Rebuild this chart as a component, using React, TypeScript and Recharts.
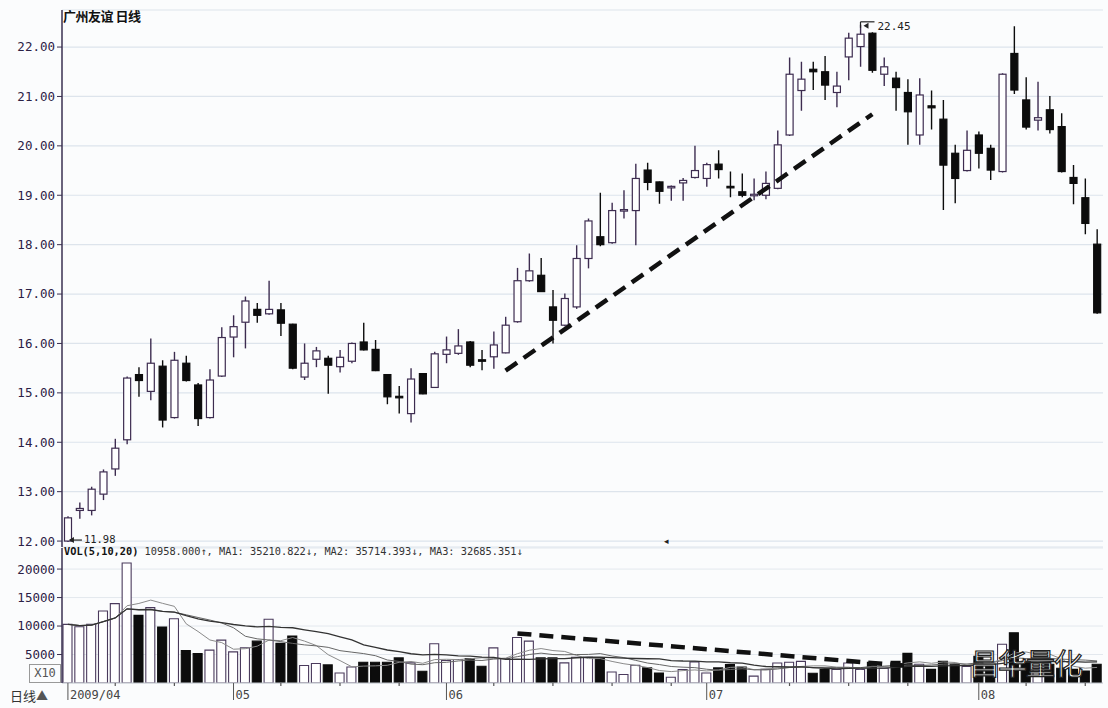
import React from 'react';
import { ComposedChart, Bar, Line, XAxis, YAxis, CartesianGrid, Cell, ReferenceDot } from 'recharts';

// 广州友谊 日线, 2009/04/13 - 2009/08/14
const opens = [
  12.0, 12.62, 12.62, 12.95, 13.46, 14.05, 15.37, 15.03, 15.54, 14.5,
  15.6, 15.16, 14.5, 15.34, 16.13, 16.43, 16.69, 16.6, 16.68, 16.39,
  15.32, 15.68, 15.7, 15.53, 15.64, 16.03, 15.88, 15.37, 14.93, 14.58,
  15.39, 15.11, 15.78, 15.8, 16.03, 15.67, 15.73, 15.81, 16.44, 17.27,
  17.38, 16.74, 16.37, 16.74, 17.72, 18.16, 18.04, 18.69, 18.69, 19.51,
  19.27, 19.16, 19.25, 19.36, 19.34, 19.63, 19.18, 19.07, 19.0, 19.0,
  19.14, 20.22, 21.12, 21.55, 21.5, 21.08, 21.8, 22.01, 22.28, 21.45,
  21.37, 21.08, 20.22, 20.81, 20.54, 19.85, 19.5, 20.22, 19.95, 19.48,
  21.87, 20.93, 20.52, 20.73, 20.39, 19.36, 18.95, 18.01,
];
const highs = [
  12.5, 12.78, 13.1, 13.45, 14.07, 15.33, 15.52, 16.1, 15.66, 15.83,
  15.75, 15.2, 15.48, 16.33, 16.57, 16.95, 16.82, 17.27, 16.82, 16.4,
  16.0, 15.93, 15.75, 15.87, 16.02, 16.42, 16.07, 15.38, 15.14, 15.5,
  15.4, 15.83, 16.14, 16.29, 16.05, 15.87, 16.24, 16.54, 17.53, 17.82,
  17.73, 17.08, 17.01, 17.99, 18.53, 19.05, 18.85, 19.1, 19.64, 19.66,
  19.28, 19.2, 19.35, 20.0, 19.66, 19.91, 19.48, 19.44, 19.34, 19.48,
  20.31, 21.79, 21.7, 21.7, 21.82, 21.5, 22.29, 22.45, 22.3, 21.79,
  21.5, 21.35, 21.37, 21.12, 20.93, 20.02, 20.31, 20.29, 20.02, 21.47,
  22.42, 21.39, 21.3, 21.01, 20.66, 19.61, 19.34, 18.31,
];
const lows = [
  11.98, 12.45, 12.52, 12.83, 13.32, 13.96, 14.92, 14.85, 14.3, 14.48,
  15.23, 14.33, 14.48, 15.32, 15.72, 15.9, 16.42, 16.58, 16.15, 15.48,
  15.26, 15.52, 14.98, 15.41, 15.6, 15.86, 15.44, 14.77, 14.58, 14.4,
  14.97, 15.1, 15.6, 15.77, 15.52, 15.46, 15.49, 15.8, 16.42, 17.25,
  17.04, 16.0, 16.35, 16.7, 17.52, 17.97, 18.02, 18.53, 17.99, 19.1,
  18.83, 18.89, 18.89, 19.34, 19.17, 19.34, 18.96, 18.96, 18.9, 18.92,
  19.12, 20.2, 20.71, 21.13, 20.93, 20.78, 21.33, 21.6, 21.48, 21.21,
  20.71, 20.02, 20.02, 20.33, 18.7, 18.84, 19.48, 19.54, 19.31, 19.46,
  21.05, 20.33, 20.31, 20.25, 19.46, 18.82, 18.21, 16.6,
];
const closes = [
  12.47, 12.66, 13.05, 13.4, 13.88, 15.3, 15.25, 15.6, 14.45, 15.66,
  15.25, 14.48, 15.26, 16.12, 16.34, 16.86, 16.57, 16.69, 16.41, 15.5,
  15.6, 15.85, 15.56, 15.72, 16.0, 15.87, 15.45, 14.92, 14.91, 15.28,
  14.98, 15.79, 15.87, 15.95, 15.56, 15.65, 15.97, 16.37, 17.27, 17.47,
  17.05, 16.47, 16.91, 17.72, 18.48, 18.0, 18.69, 18.71, 19.34, 19.26,
  19.08, 19.18, 19.3, 19.5, 19.62, 19.52, 19.17, 19.0, 19.02, 19.24,
  20.02, 21.45, 21.35, 21.5, 21.23, 21.21, 22.18, 22.26, 21.53, 21.6,
  21.18, 20.69, 21.03, 20.77, 19.61, 19.34, 19.91, 19.85, 19.51, 21.45,
  21.13, 20.38, 20.57, 20.33, 19.48, 19.24, 18.43, 16.62,
];
const volumes = [
  10300, 9880, 10300, 12650, 13940, 21060, 11880, 13230, 9820, 11290,
  5710, 5180, 5770, 7530, 5470, 6180, 7350, 11180, 6950, 8240,
  3070, 3420, 3180, 1760, 2820, 3650, 3650, 3650, 4410, 3530,
  2060, 6880, 3950, 4120, 4300, 2940, 6170, 4300, 8000, 7350,
  4410, 4410, 3530, 4530, 4530, 4410, 1940, 1480, 3120, 2650,
  1760, 1000, 2360, 3700, 1760, 2650, 3240, 2820, 1200, 2400,
  3500, 3650, 3800, 1700, 2400, 2400, 3500, 2400, 3650, 2600,
  3800, 5200, 3300, 2400, 3800, 3300, 2900, 4700, 3100, 6800,
  8800, 3800, 2600, 3300, 2600, 2400, 2100, 3300,
];

const priceTicks = [12, 13, 14, 15, 16, 17, 18, 19, 20, 21, 22];
const volTicks = [5000, 10000, 15000, 20000];
const monthStarts = [0, 14, 32, 54, 77];
const monthNames = ['2009/04', '05', '06', '07', '08'];
const weekEnds = [4, 9, 18, 23, 28, 36, 41, 46, 51, 61, 66, 71, 81, 86];

// hand-drawn trend lines (candle index, value)
const priceTrend = [{ i: 37, v: 15.45 }, { i: 68, v: 20.64 }];
const volTrend = [{ i: 38, v: 8700 }, { i: 71, v: 3000 }];

const movingAverage = (arr: number[], n: number) =>
  arr.map((_, i) => {
    const part = arr.slice(Math.max(0, i - n + 1), i + 1);
    return part.reduce((s, v) => s + v, 0) / part.length;
  });

const ma5 = movingAverage(volumes, 5);
const ma10 = movingAverage(volumes, 10);
const ma20 = movingAverage(volumes, 20);

const rows = closes.map((c, i) => ({
  i,
  open: opens[i],
  high: highs[i],
  low: lows[i],
  close: c,
  range: [lows[i], highs[i]],
  vol: volumes[i],
  ma5: ma5[i],
  ma10: ma10[i],
  ma20: ma20[i],
  trend: priceTrend.find((p) => p.i === i)?.v ?? null,
  vtrend: volTrend.find((p) => p.i === i)?.v ?? null,
}));

const UP = '#3d2c50';
const DOWN = '#0c0c0c';
const BG = '#fbfcfd';
const axisFont = { fontSize: 12.5, fill: '#2b2145', fontFamily: 'DejaVu Sans Mono' };

const Candle = (props: any) => {
  const { x, y, width, height, payload } = props;
  const { open, close, high, low } = payload;
  const ppu = height / (high - low);
  const top = y + (high - Math.max(open, close)) * ppu;
  const bot = y + (high - Math.min(open, close)) * ppu;
  const cx = x + width / 2;
  const up = close >= open;
  const color = up ? UP : DOWN;
  return (
    <g>
      <line x1={cx} x2={cx} y1={y} y2={y + height} stroke={color} strokeWidth={1.4} />
      <rect
        x={x + 0.5}
        y={top}
        width={width - 1}
        height={Math.max(bot - top, 1.5)}
        fill={up ? '#ffffff' : DOWN}
        stroke={color}
        strokeWidth={1.2}
      />
    </g>
  );
};

const AxisTick = (p: any) => {
  const idx = p.payload.value;
  const m = monthStarts.indexOf(idx);
  if (m >= 0) {
    return (
      <g>
        <line x1={p.x} x2={p.x} y1={p.y} y2={p.y + 17} stroke="#555" strokeWidth={1} />
        <text x={p.x + 2} y={p.y + 16} fontSize={12} fill="#444" fontFamily="DejaVu Sans Mono">
          {monthNames[m]}
        </text>
      </g>
    );
  }
  return <line x1={p.x} x2={p.x} y1={p.y} y2={p.y + 3} stroke="#555" strokeWidth={1.2} />;
};

export default function App() {
  const firstLow = lows[0];
  const peak = Math.max(...highs);
  const peakIdx = highs.indexOf(peak);

  return (
    <div style={{ position: 'absolute', left: 0, top: 0, width: 1108, height: 708, background: BG, overflow: 'hidden' }}>
      {/* 成交量 */}
      <div style={{ position: 'absolute', left: 0, top: 547 }}>
        <ComposedChart width={1108} height={161} data={rows} margin={{ top: 1, right: 5, bottom: 0, left: 0 }}>
          <CartesianGrid horizontal vertical={false} stroke="#e3e8ee" strokeWidth={1} />
          <XAxis
            dataKey="i"
            type="category"
            height={25}
            ticks={[...monthStarts, ...weekEnds].sort((a, b) => a - b)}
            interval={0}
            tickLine={false}
            tickSize={0}
            tickMargin={0}
            tick={AxisTick}
            axisLine={{ stroke: '#c4c8cf', strokeWidth: 1 }}
          />
          <YAxis
            domain={[0, 23700]}
            ticks={volTicks}
            interval={0}
            allowDataOverflow
            width={62}
            tickSize={5}
            tickMargin={2}
            tick={axisFont}
            axisLine={{ stroke: '#3a3050', strokeWidth: 1.5 }}
            tickLine={{ stroke: '#3a3050' }}
          />
          <Bar dataKey="vol" barSize={9} isAnimationActive={false}>
            {rows.map((r) => (
              <Cell
                key={r.i}
                fill={r.close >= r.open ? '#ffffff' : DOWN}
                stroke={r.close >= r.open ? '#4a3a5c' : DOWN}
                strokeWidth={1.1}
              />
            ))}
          </Bar>
          <Line dataKey="ma5" stroke="#8a8a8a" strokeWidth={1} dot={false} isAnimationActive={false} />
          <Line dataKey="ma10" stroke="#666" strokeWidth={1} dot={false} isAnimationActive={false} />
          <Line dataKey="ma20" stroke="#333" strokeWidth={1.3} dot={false} isAnimationActive={false} />
          <Line
            dataKey="vtrend"
            stroke="#111"
            strokeWidth={4.5}
            strokeDasharray="14 8"
            dot={false}
            connectNulls
            isAnimationActive={false}
          />
        </ComposedChart>
      </div>

      {/* K线 */}
      <div style={{ position: 'absolute', left: 0, top: 0 }}>
        <ComposedChart width={1108} height={550} data={rows} margin={{ top: 10, right: 5, bottom: 3, left: 0 }}>
          <CartesianGrid horizontal vertical={false} stroke="#dde4ec" strokeWidth={1.2} />
          <XAxis dataKey="i" type="category" tick={false} tickLine={false} height={0} axisLine={{ stroke: '#9aa0a8', strokeWidth: 1.5 }} />
          <YAxis
            domain={[11.88, 22.75]}
            ticks={priceTicks}
            interval={0}
            allowDataOverflow
            width={62}
            tickSize={5}
            tickMargin={2}
            tick={axisFont}
            tickFormatter={(v: number) => v.toFixed(2)}
            axisLine={{ stroke: '#3a3050', strokeWidth: 1.5 }}
            tickLine={{ stroke: '#3a3050' }}
          />
          <Bar dataKey="range" barSize={8} shape={Candle} isAnimationActive={false} />
          <Line
            dataKey="trend"
            stroke="#111"
            strokeWidth={4.5}
            strokeDasharray="14 8"
            dot={false}
            connectNulls
            isAnimationActive={false}
          />
          <ReferenceDot
            x={0}
            y={firstLow}
            r={0}
            shape={(p: any) => (
              <g>
                <line x1={p.cx + 2} x2={p.cx + 14} y1={p.cy - 2} y2={p.cy - 2} stroke="#222" strokeWidth={1.2} />
                <path d={`M${p.cx + 1},${p.cy - 2} l5,-3 l0,6 z`} fill="#222" />
                <text x={p.cx + 16} y={p.cy + 1} fontSize={10.5} fill="#222" fontFamily="DejaVu Sans Mono">
                  {firstLow.toFixed(2)}
                </text>
              </g>
            )}
          />
          <ReferenceDot
            x={peakIdx}
            y={peak}
            r={0}
            shape={(p: any) => (
              <g>
                <line x1={p.cx} x2={p.cx} y1={p.cy + 3} y2={p.cy - 3} stroke="#222" strokeWidth={1.2} />
                <line x1={p.cx} x2={p.cx + 14} y1={p.cy - 3} y2={p.cy - 3} stroke="#222" strokeWidth={1.2} />
                <path d={`M${p.cx + 3},${p.cy + 1} l5,-3 l0,6 z`} fill="#222" />
                <text x={p.cx + 17} y={p.cy + 5} fontSize={11} fill="#222" fontFamily="DejaVu Sans Mono">
                  {peak.toFixed(2)}
                </text>
              </g>
            )}
          />
        </ComposedChart>
      </div>

      {/* 标题与图例 */}
      <div style={{ position: 'absolute', left: 63, top: 6, fontFamily: '"Noto Sans CJK SC"', fontSize: 13, fontWeight: 700, color: '#111', letterSpacing: -0.5 }}>
        广州友谊 日线
      </div>
      <div style={{ position: 'absolute', left: 64, top: 545, fontFamily: 'DejaVu Sans Mono', fontSize: 10.3, color: '#333', whiteSpace: 'pre' }}>
        <b style={{ color: '#111' }}>VOL(5,10,20)</b> 10958.000↑, MA1: 35210.822↓, MA2: 35714.393↓, MA3: 32685.351↓
      </div>
      <div style={{ position: 'absolute', left: 664, top: 536, fontSize: 9, color: '#222', fontFamily: 'DejaVu Sans' }}>◂</div>
      <div style={{ position: 'absolute', left: 29, top: 664, width: 32, height: 19, border: '1px solid #999', boxSizing: 'border-box', fontFamily: 'DejaVu Sans Mono', fontSize: 12, color: '#555', lineHeight: '17px', textAlign: 'center', background: BG }}>
        X10
      </div>
      <div style={{ position: 'absolute', left: 10, top: 686, fontFamily: '"Noto Sans CJK SC"', fontSize: 13, color: '#333' }}>
        日线<span style={{ color: '#555', fontSize: 12 }}>▲</span>
      </div>
      <svg style={{ position: 'absolute', left: 0, top: 0 }} width={1108} height={708}>
        <text
          x={970}
          y={675}
          fontSize={29}
          fontFamily='"Noto Sans CJK SC"'
          fill="#ffffff"
          stroke="#222"
          strokeWidth={1.2}
          letterSpacing={-1}
        >
          昌华量化
        </text>
      </svg>
    </div>
  );
}
